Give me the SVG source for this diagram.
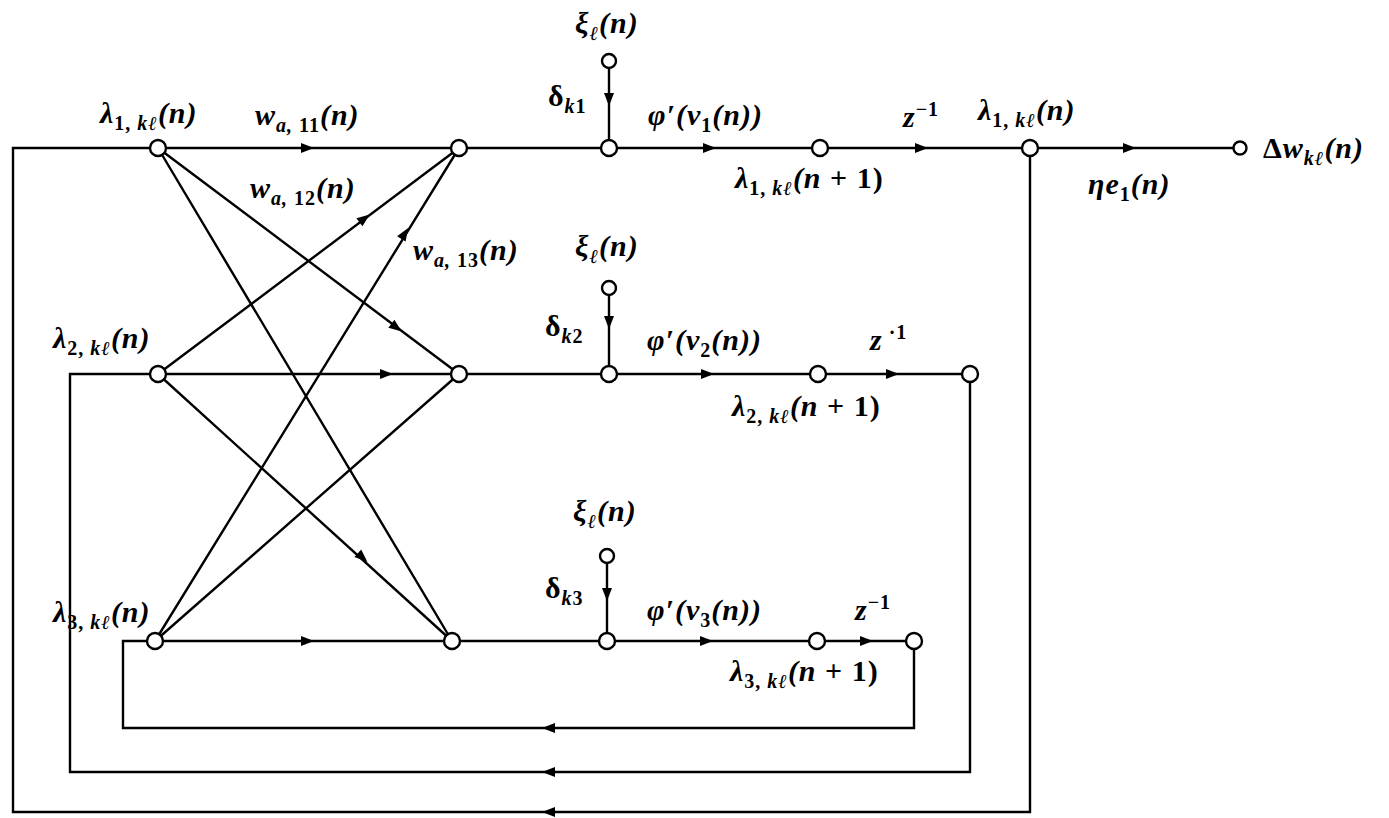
<svg xmlns="http://www.w3.org/2000/svg" xmlns:xlink="http://www.w3.org/1999/xlink" width="1389" height="818" viewBox="0 0 1389 818">
<defs>
<style>
.ln{stroke:#000;stroke-width:2.4;fill:none;stroke-linejoin:miter}
.nd{fill:#fff;stroke:#000;stroke-width:2.4}
.t{font-family:"Liberation Serif","DejaVu Serif",serif;font-size:30px;font-style:italic;font-weight:bold;letter-spacing:1px;fill:#000}
.s{font-size:20px}
.u{font-style:normal}
</style>
<path id="ah" d="M-7,-5 L6,0 L-7,5 z" fill="#000"/>
</defs>
<rect width="1389" height="818" fill="#fff"/>
<g id="connectors">
<path class="ln" d="M158,148 L1240,148"/>
<path class="ln" d="M158,148 L13,148 L13,812 L1030,812 L1030,148"/>
<path class="ln" d="M158,374 L970,374"/>
<path class="ln" d="M158,374 L70,374 L70,772 L970,772 L970,374"/>
<path class="ln" d="M155,641 L914,641"/>
<path class="ln" d="M155,641 L123,641 L123,728 L914,728 L914,641"/>
<path class="ln" d="M158,148 L459,374 M158,148 L452,641"/>
<path class="ln" d="M158,374 L459,148 M158,374 L452,641"/>
<path class="ln" d="M155,641 L459,148 M155,641 L459,374"/>
<path class="ln" d="M609,61 L609,148 M609,288 L609,374 M607,556 L607,641"/>
<use xlink:href="#ah" transform="translate(308,148)"/>
<use xlink:href="#ah" transform="translate(365,218) rotate(-36.9)"/>
<use xlink:href="#ah" transform="translate(405,233) rotate(-58.3)"/>
<use xlink:href="#ah" transform="translate(397,328) rotate(36.9)"/>
<use xlink:href="#ah" transform="translate(387,374)"/>
<use xlink:href="#ah" transform="translate(363,558) rotate(42.2)"/>
<use xlink:href="#ah" transform="translate(308,641)"/>
<use xlink:href="#ah" transform="translate(710,148)"/>
<use xlink:href="#ah" transform="translate(922,148)"/>
<use xlink:href="#ah" transform="translate(1130,148)"/>
<use xlink:href="#ah" transform="translate(708,374)"/>
<use xlink:href="#ah" transform="translate(893,374)"/>
<use xlink:href="#ah" transform="translate(707,641)"/>
<use xlink:href="#ah" transform="translate(867,641)"/>
<use xlink:href="#ah" transform="translate(609,100) rotate(90)"/>
<use xlink:href="#ah" transform="translate(609,323) rotate(90)"/>
<use xlink:href="#ah" transform="translate(607,595) rotate(90)"/>
<use xlink:href="#ah" transform="translate(548,728) rotate(180)"/>
<use xlink:href="#ah" transform="translate(548,772) rotate(180)"/>
<use xlink:href="#ah" transform="translate(548,812) rotate(180)"/>
</g>
<g id="n-l1"><circle class="nd" cx="158" cy="148" r="8"/><text class="t" x="100" y="123">λ<tspan class="s u" dy="7">1, </tspan><tspan class="s" >kℓ</tspan><tspan dy="-7">(n)</tspan></text></g>
<g id="n-l2"><circle class="nd" cx="158" cy="374" r="8"/><text class="t" x="53" y="348">λ<tspan class="s u" dy="7">2, </tspan><tspan class="s">kℓ</tspan><tspan dy="-7">(n)</tspan></text></g>
<g id="n-l3"><circle class="nd" cx="155" cy="641" r="8"/><text class="t" x="53" y="622">λ<tspan class="s u" dy="7">3, </tspan><tspan class="s">kℓ</tspan><tspan dy="-7">(n)</tspan></text></g>
<g id="n-s1"><circle class="nd" cx="459" cy="148" r="8"/></g>
<g id="n-s2"><circle class="nd" cx="459" cy="374" r="8"/></g>
<g id="n-s3"><circle class="nd" cx="452" cy="641" r="8"/></g>
<g id="n-d1"><circle class="nd" cx="609" cy="148" r="8"/></g>
<g id="n-d2"><circle class="nd" cx="609" cy="374" r="8"/></g>
<g id="n-d3"><circle class="nd" cx="607" cy="641" r="8"/></g>
<g id="n-x1"><circle class="nd" cx="609" cy="61" r="7"/><text class="t" x="575" y="33">ξ<tspan class="s" dy="7">ℓ</tspan><tspan dy="-7">(n)</tspan></text></g>
<g id="n-x2"><circle class="nd" cx="609" cy="288" r="7"/><text class="t" x="575" y="256">ξ<tspan class="s" dy="7">ℓ</tspan><tspan dy="-7">(n)</tspan></text></g>
<g id="n-x3"><circle class="nd" cx="607" cy="556" r="7"/><text class="t" x="573" y="521">ξ<tspan class="s" dy="7">ℓ</tspan><tspan dy="-7">(n)</tspan></text></g>
<g id="n-p1"><circle class="nd" cx="820" cy="148" r="8"/><text class="t" x="735" y="188">λ<tspan class="s u" dy="7">1, </tspan><tspan class="s">kℓ</tspan><tspan dy="-7">(n </tspan><tspan class="u">+ 1)</tspan></text></g>
<g id="n-p2"><circle class="nd" cx="818" cy="374" r="8"/><text class="t" x="732" y="416">λ<tspan class="s u" dy="7">2, </tspan><tspan class="s">kℓ</tspan><tspan dy="-7">(n </tspan><tspan class="u">+ 1)</tspan></text></g>
<g id="n-p3"><circle class="nd" cx="817" cy="641" r="8"/><text class="t" x="730" y="681">λ<tspan class="s u" dy="7">3, </tspan><tspan class="s">kℓ</tspan><tspan dy="-7">(n </tspan><tspan class="u">+ 1)</tspan></text></g>
<g id="n-q1"><circle class="nd" cx="1030" cy="148" r="8"/><text class="t" x="978" y="120">λ<tspan class="s u" dy="7">1, </tspan><tspan class="s">kℓ</tspan><tspan dy="-7">(n)</tspan></text></g>
<g id="n-q2"><circle class="nd" cx="970" cy="374" r="8"/></g>
<g id="n-q3"><circle class="nd" cx="914" cy="641" r="8"/></g>
<g id="n-out"><circle class="nd" cx="1240" cy="148" r="6.5"/><text class="t" x="1263" y="158"><tspan class="u">Δ</tspan>w<tspan class="s" dy="7">kℓ</tspan><tspan dy="-7">(n)</tspan></text></g>
<g id="labels">
<text class="t" x="255" y="125">w<tspan class="s" dy="7">a, </tspan><tspan class="s u">11</tspan><tspan dy="-7">(n)</tspan></text>
<text class="t" x="250" y="198">w<tspan class="s" dy="7">a, </tspan><tspan class="s u">12</tspan><tspan dy="-7">(n)</tspan></text>
<text class="t" x="413" y="260">w<tspan class="s" dy="7">a, </tspan><tspan class="s u">13</tspan><tspan dy="-7">(n)</tspan></text>
<text class="t" x="548" y="106"><tspan class="u">δ</tspan><tspan class="s" dy="7">k</tspan><tspan class="s u">1</tspan></text>
<text class="t" x="545" y="336"><tspan class="u">δ</tspan><tspan class="s" dy="7">k</tspan><tspan class="s u">2</tspan></text>
<text class="t" x="545" y="598"><tspan class="u">δ</tspan><tspan class="s" dy="7">k</tspan><tspan class="s u">3</tspan></text>
<text class="t" x="648" y="125">φ′(v<tspan class="s u" dy="7">1</tspan><tspan dy="-7">(n))</tspan></text>
<text class="t" x="647" y="350">φ′(v<tspan class="s u" dy="7">2</tspan><tspan dy="-7">(n))</tspan></text>
<text class="t" x="647" y="620">φ′(v<tspan class="s u" dy="7">3</tspan><tspan dy="-7">(n))</tspan></text>
<text class="t" x="903" y="127">z<tspan class="s u" dy="-11">−1</tspan></text>
<text class="t" x="870" y="350">z<tspan class="s u" dy="-11"> ·1</tspan></text>
<text class="t" x="855" y="620">z<tspan class="s u" dy="-11">−1</tspan></text>
<text class="t" x="1088" y="194">ηe<tspan class="s u" dy="7">1</tspan><tspan dy="-7">(n)</tspan></text>
</g>
</svg>
